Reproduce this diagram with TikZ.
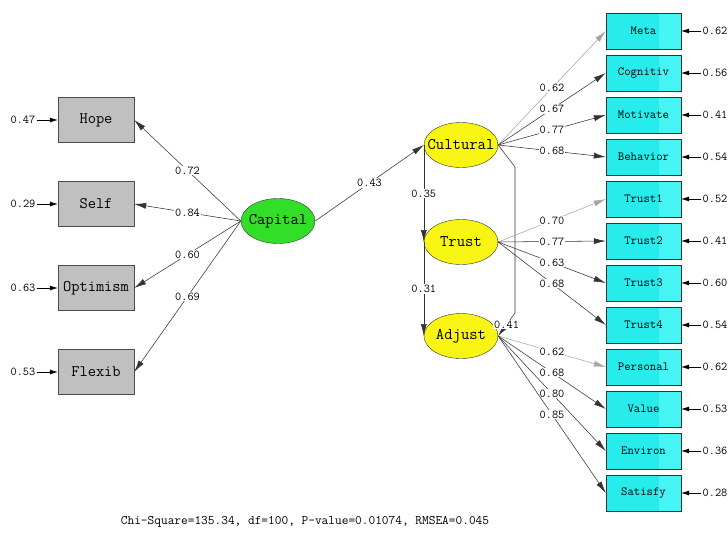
\documentclass[tikz,border=0pt]{standalone}
\usepackage{fontspec}
\setmainfont{Latin Modern Mono}
\usetikzlibrary{shapes.geometric,arrows.meta}
\definecolor{boxgray}{RGB}{192,192,192}
\definecolor{boxcyan}{RGB}{40,236,236}
\definecolor{boxcyanr}{RGB}{70,244,244}
\definecolor{latyellow}{RGB}{248,244,20}
\definecolor{latgreen}{RGB}{50,222,40}
\definecolor{linegray}{RGB}{165,165,165}
\tikzset{
  lbox/.style={draw=black!70,fill=boxgray,minimum width=76pt,minimum height=45pt,inner sep=0pt,font=\fontsize{16}{18}\selectfont},
  rbox/.style={draw=black!80,fill=boxcyan,minimum width=75pt,minimum height=36pt,inner sep=0pt,font=\fontsize{12.4}{14}\selectfont,
    path picture={\fill[boxcyanr] ([xshift=-22pt]path picture bounding box.north east) rectangle (path picture bounding box.south east);}},
  lat/.style={ellipse,draw=black!80,minimum width=74pt,minimum height=45pt,inner sep=0pt},
  lattext/.style={font=\fontsize{16.2}{18}\selectfont,inner sep=0pt},
  num/.style={font=\fontsize{12}{14}\selectfont,inner sep=1pt},
  lab/.style={font=\fontsize{12}{14}\selectfont,fill=white,inner sep=1pt},
  pth/.style={draw=black!80,line width=0.55pt,-{Latex[length=12pt,width=6pt]}},
  gpth/.style={draw=linegray,line width=0.55pt,-{Latex[length=12pt,width=6pt]}},
  err/.style={draw=black,line width=0.6pt,-{Latex[length=8pt,width=5pt]}},
}
\begin{document}
\begin{tikzpicture}[x=1pt,y=-1pt]
\useasboundingbox (0,0) rectangle (728,533);
% left indicators
\node[lbox] (hope) at (96,120) {Hope};
\node[lbox] (self) at (96,204) {Self};
\node[lbox] (opt) at (96,288) {Optimism};
\node[lbox] (flex) at (96,372) {Flexib};
\node[num] (ehope) at (23,120) {0.47};
\node[num] (eself) at (23,204) {0.29};
\node[num] (eopt) at (23,288) {0.63};
\node[num] (eflex) at (23,372) {0.53};
\draw[err] (ehope) -- (hope);
\draw[err] (eself) -- (self);
\draw[err] (eopt) -- (opt);
\draw[err] (eflex) -- (flex);
% latents
\node[lat,fill=latgreen] (cap) at (278,221) {};
\node[lattext] (capt) at (cap) {Capital};
\node[lat,fill=latyellow] (cul) at (461,145) {};
\node[lattext] (cult) at (cul) {Cultural};
\node[lat,fill=latyellow] (tru) at (461,242) {};
\node[lattext] (trut) at (tru) {Trust};
\node[lat,fill=latyellow] (adj) at (461,336) {};
\node[lattext] (adjt) at (adj) {Adjust};
% right indicators
\foreach \n/\t/\y/\e in {meta/Meta/31/0.62, cog/Cognitiv/73/0.56, mot/Motivate/115/0.41, beh/Behavior/157/0.54,
  tr1/Trust1/199/0.52, tr2/Trust2/241/0.41, tr3/Trust3/283/0.60, tr4/Trust4/325/0.54,
  per/Personal/367/0.62, val/Value/409/0.53, env/Environ/451/0.36, sat/Satisfy/493/0.28}{
  \node[rbox] (\n) at (643.5,\y) {\t};
  \node[num] (e\n) at (715,\y) {\e};
  \draw[err] (e\n) -- (\n);
}
% Capital loadings
\draw[pth] (cap.west) -- node[lab] {0.72} (hope.east);
\draw[pth] (cap.west) -- node[lab] {0.84} (self.east);
\draw[pth] (cap.west) -- node[lab] {0.60} (opt.east);
\draw[pth] (cap.west) -- node[lab] {0.69} (flex.east);
% structural paths
\draw[pth] (cap.east) -- node[lab] {0.43} (cul.west);
\draw[pth] (cul.west) -- node[lab] {0.35} (tru.west);
\draw[pth] (tru.west) -- node[lab] {0.31} (adj.west);
\coordinate (k1) at (515,167);
\coordinate (k2) at (515,313);
\draw[pth] (cul.east) -- (k1) -- (k2) -- node[lab] {0.41} (adj.east);
% Cultural loadings
\draw[gpth] (cul.east) -- node[lab] {0.62} (meta.west);
\draw[pth] (cul.east) -- node[lab] {0.67} (cog.west);
\draw[pth] (cul.east) -- node[lab] {0.77} (mot.west);
\draw[pth] (cul.east) -- node[lab] {0.68} (beh.west);
% Trust loadings
\draw[gpth] (tru.east) -- node[lab] {0.70} (tr1.west);
\draw[pth] (tru.east) -- node[lab] {0.77} (tr2.west);
\draw[pth] (tru.east) -- node[lab] {0.63} (tr3.west);
\draw[pth] (tru.east) -- node[lab] {0.68} (tr4.west);
% Adjust loadings
\draw[gpth] (adj.east) -- node[lab] {0.62} (per.west);
\draw[pth] (adj.east) -- node[lab] {0.68} (val.west);
\draw[pth] (adj.east) -- node[lab] {0.80} (env.west);
\draw[pth] (adj.east) -- node[lab] {0.85} (sat.west);
% fit
\node[font=\fontsize{13}{15}\selectfont,inner sep=0pt] (fit) at (305,522) {Chi-Square=135.34, df=100, P-value=0.01074, RMSEA=0.045};
\end{tikzpicture}
\end{document}
